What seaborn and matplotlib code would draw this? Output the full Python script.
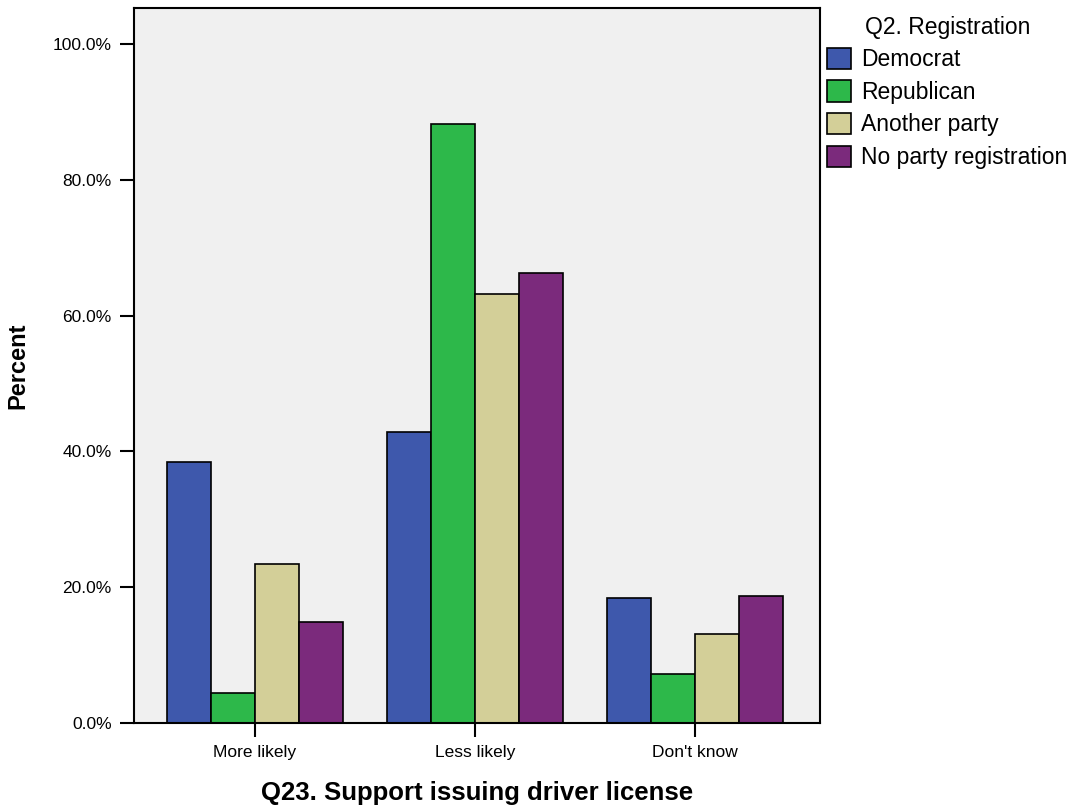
import pandas as pd
import numpy as np
import seaborn as sns
import matplotlib.pyplot as plt
from matplotlib.ticker import PercentFormatter

# Q23 answer categories and party registration groups
answers = ['More likely', 'Less likely', "Don't know"]
parties = ['Democrat', 'Republican', 'Another party', 'No party registration']

# percent within each party
democrat = [38.4, 42.9, 18.4]
republican = [4.4, 88.2, 7.2]
another_party = [23.4, 63.2, 13.1]
no_party = [14.9, 66.3, 18.7]

colors = ['#3e58ac', '#2db84a', '#d3cf98', '#7b2a7c']

df = pd.DataFrame({
    'answer': answers * 4,
    'party': np.repeat(parties, 3),
    'pct': democrat + republican + another_party + no_party,
})

sns.set_style('white')
plt.rcParams['font.family'] = ['Liberation Sans', 'DejaVu Sans']
plt.rcParams['text.color'] = 'black'
plt.rcParams['axes.labelcolor'] = 'black'
plt.rcParams['xtick.color'] = 'black'
plt.rcParams['ytick.color'] = 'black'

fig = plt.figure(figsize=(10.83, 8.06), dpi=100)
ax = fig.add_axes([0.1237, 0.103, 0.6335, 0.887])

sns.barplot(data=df, x='answer', y='pct', hue='party', order=answers,
            hue_order=parties, palette=colors, width=0.8,
            edgecolor='black', linewidth=1.2, saturation=1, ax=ax)

ax.set_facecolor('#f0f0f0')
ax.set_ylim(0, 105.3)
ax.set_xlim(-0.55, 2.57)
ax.set_yticks([0, 20, 40, 60, 80, 100])
ax.yaxis.set_major_formatter(PercentFormatter(decimals=1))
ax.tick_params(axis='both', direction='out', length=10, width=1.5,
               color='black', labelsize=12.5, left=True, bottom=True, pad=6)
for s in ax.spines.values():
    s.set_color('black')
    s.set_linewidth(1.5)

ax.set_ylabel('Percent', fontsize=17, fontweight='bold', labelpad=17)
ax.set_xlabel('Q23. Support issuing driver license', fontsize=18.5,
              fontweight='bold', labelpad=15)

leg = ax.legend(title='Q2. Registration', loc='upper left',
                bbox_to_anchor=(1.0, 0.999), frameon=False, fontsize=16.5,
                title_fontsize=16.5, handlelength=1.05, handleheight=1.05,
                handletextpad=0.45, labelspacing=0.4, borderaxespad=0,
                borderpad=0.3)
for h in leg.legend_handles:
    h.set_edgecolor('black')
    h.set_linewidth(1.2)

fig.savefig('out.png', dpi=100)
